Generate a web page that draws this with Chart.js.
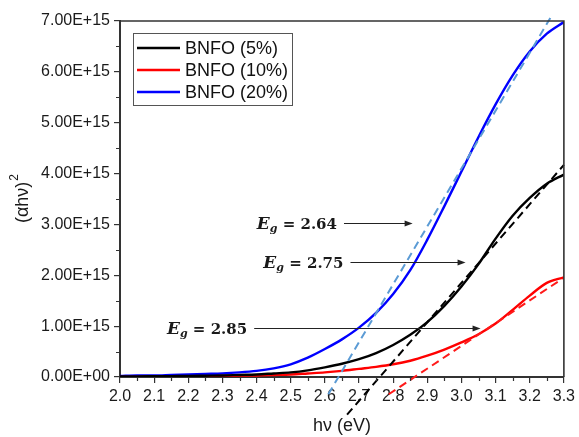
<!DOCTYPE html>
<html>
<head>
<meta charset="utf-8">
<script src="https://cdn.jsdelivr.net/npm/chart.js@4/dist/chart.umd.min.js"></script>
<style>
html,body{margin:0;padding:0;background:#fff;}
#wrap{width:579px;height:437px;}
</style>
</head>
<body>
<div id="wrap"><canvas id="c" width="579" height="437"></canvas></div>
<script>
// ---- data (y values in units of 1E+15) ----
const photonEnergy = [2.00,2.05,2.10,2.15,2.20,2.25,2.30,2.35,2.40,2.45,2.50,2.55,2.60,2.65,2.70,2.75,2.80,2.85,2.90,2.95,3.00,3.05,3.10,3.15,3.20,3.25,3.30];
const bnfo5  = [0.01,0.012,0.015,0.018,0.02,0.025,0.03,0.04,0.05,0.07,0.09,0.13,0.19,0.26,0.35,0.47,0.63,0.83,1.08,1.40,1.78,2.22,2.72,3.17,3.52,3.80,3.98];
const bnfo10 = [0.00,0.003,0.005,0.008,0.01,0.015,0.02,0.025,0.03,0.04,0.05,0.07,0.09,0.12,0.16,0.20,0.25,0.32,0.42,0.54,0.68,0.84,1.05,1.32,1.60,1.85,1.96];
const bnfo20 = [0.02,0.03,0.03,0.04,0.05,0.06,0.07,0.09,0.12,0.17,0.25,0.38,0.55,0.74,0.97,1.26,1.63,2.10,2.70,3.36,4.04,4.72,5.36,5.93,6.40,6.75,6.98];
// Tauc fit lines (end points)
const fit5X  = [2.665, 3.30];  const fit5Y  = [-0.74, 4.17];
const fit10X = [2.787, 3.295]; const fit10Y = [-0.34, 1.93];
const fit20X = [2.610, 3.262]; const fit20Y = [-0.34, 7.08];
const seriesLabels = ['BNFO (5%)','BNFO (10%)','BNFO (20%)'];
const xTicks = [2.0,2.1,2.2,2.3,2.4,2.5,2.6,2.7,2.8,2.9,3.0,3.1,3.2,3.3];
const yTicks = [0,1,2,3,4,5,6,7];
// band gap annotations
const gapLabels = ['2.64','2.75','2.85'];
const gapArrowY = [3.02, 2.27, 0.97];
const gapArrowX0 = [2.656, 2.675, 2.393];
const gapArrowX1 = [2.857, 3.012, 3.056];

const UNIT = 1e15;
const pts = (xs, ys) => xs.map((x,i)=>({x:x, y:ys[i]*UNIT}));
function fmtExp(v){
  if (Math.abs(v) < 1) return '0.00E+00';
  return v.toExponential(2).toUpperCase();
}

const solidStyle = c => ({borderColor:c, backgroundColor:c, borderWidth:2.4, pointRadius:0, cubicInterpolationMode:'monotone', fill:false, showLine:true, order:2});
const dashStyle = c => ({borderColor:c, backgroundColor:c, borderWidth:2, borderDash:[8,5], pointRadius:0, fill:false, showLine:true, clip:false, order:1});

const decor = {
  id:'decor',
  afterDatasetsDraw(chart){
    const ctx = chart.ctx, a = chart.chartArea, xs = chart.scales.x, ys = chart.scales.y;
    ctx.save();
    // frame top/right
    ctx.strokeStyle = '#333'; ctx.lineWidth = 1.6;
    ctx.beginPath();
    ctx.moveTo(a.left, a.top); ctx.lineTo(a.right, a.top); ctx.lineTo(a.right, a.bottom);
    ctx.stroke();
    // minor ticks
    ctx.lineWidth = 1.2;
    ctx.beginPath();
    for (let i=0;i<xTicks.length-1;i++){
      const px = Math.round(xs.getPixelForValue((xTicks[i]+xTicks[i+1])/2))+0.5;
      ctx.moveTo(px, a.bottom); ctx.lineTo(px, a.bottom+4);
    }
    for (let i=0;i<yTicks.length-1;i++){
      const py = Math.round(ys.getPixelForValue((yTicks[i]+yTicks[i+1])/2*UNIT))+0.5;
      ctx.moveTo(a.left, py); ctx.lineTo(a.left-4, py);
    }
    ctx.stroke();
    // y axis title with superscript
    ctx.save();
    ctx.translate(22, (a.top+a.bottom)/2);
    ctx.rotate(-Math.PI/2);
    ctx.fillStyle = '#1a1a1a';
    ctx.font = '18px "Liberation Sans", Arial, sans-serif';
    const main = '(αhν)';
    const wm = ctx.measureText(main).width;
    ctx.font = '12px "Liberation Sans", Arial, sans-serif';
    const ws = ctx.measureText('2').width;
    let sx = -(wm+ws)/2;
    ctx.textBaseline = 'middle'; ctx.textAlign = 'left';
    ctx.font = '18px "Liberation Sans", Arial, sans-serif';
    ctx.fillText(main, sx, 1);
    ctx.font = '12px "Liberation Sans", Arial, sans-serif';
    ctx.fillText('2', sx+wm+1, -7);
    ctx.restore();
    // legend
    const lx = 133, ly = 33, lw = 159, lh = 72;
    ctx.fillStyle = '#fff';
    ctx.fillRect(lx, ly, lw, lh);
    ctx.strokeStyle = '#555'; ctx.lineWidth = 1;
    ctx.strokeRect(lx+0.5, ly+0.5, lw, lh);
    ctx.font = '18px "Liberation Sans", Arial, sans-serif';
    ctx.textBaseline = 'middle'; ctx.textAlign = 'left';
    [0,1,2].forEach((di, r) => {
      const ds = chart.data.datasets[di];
      const yy = 48 + r*22;
      ctx.strokeStyle = ds.borderColor; ctx.lineWidth = 2.4;
      ctx.beginPath(); ctx.moveTo(137, yy); ctx.lineTo(180, yy); ctx.stroke();
      ctx.fillStyle = '#111';
      ctx.fillText(ds.label, 185, yy+1);
    });
    // annotations
    for (let i=0;i<gapLabels.length;i++){
      const y = Math.round(ys.getPixelForValue(gapArrowY[i]*UNIT))+0.5;
      const x0 = xs.getPixelForValue(gapArrowX0[i]);
      const x1 = xs.getPixelForValue(gapArrowX1[i]);
      ctx.strokeStyle = '#222'; ctx.fillStyle = '#222'; ctx.lineWidth = 1;
      ctx.beginPath(); ctx.moveTo(x0, y); ctx.lineTo(x1-6, y); ctx.stroke();
      ctx.beginPath(); ctx.moveTo(x1, y); ctx.lineTo(x1-8, y-3); ctx.lineTo(x1-8, y+3); ctx.closePath(); ctx.fill();
      const fE = 'italic bold 17px "DejaVu Serif", "Liberation Serif", serif';
      const fg = 'italic bold 11px "DejaVu Serif", "Liberation Serif", serif';
      const fr = 'bold 15px "DejaVu Serif", "Liberation Serif", serif';
      const rest = ' = ' + gapLabels[i];
      ctx.font = fE; const wE = ctx.measureText('E').width;
      ctx.font = fg; const wg = ctx.measureText('g').width;
      ctx.font = fr; const wr = ctx.measureText(rest).width;
      let tx = x0 - 7 - (wE + wg + wr);
      ctx.textAlign = 'left'; ctx.textBaseline = 'alphabetic';
      ctx.fillStyle = '#1a1a1a';
      ctx.font = fE; ctx.fillText('E', tx, y+5); tx += wE;
      ctx.font = fg; ctx.fillText('g', tx, y+8); tx += wg;
      ctx.font = fr; ctx.fillText(rest, tx, y+5);
    }
    ctx.restore();
  }
};

const datasets = [
  Object.assign({label:seriesLabels[0], data:pts(photonEnergy,bnfo5)}, solidStyle('#000000')),
  Object.assign({label:seriesLabels[1], data:pts(photonEnergy,bnfo10)}, solidStyle('#ff0000')),
  Object.assign({label:seriesLabels[2], data:pts(photonEnergy,bnfo20)}, solidStyle('#0000ff')),
  Object.assign({label:'fit5', data:pts(fit5X,fit5Y)}, dashStyle('#000000')),
  Object.assign({label:'fit10', data:pts(fit10X,fit10Y)}, dashStyle('#ff1a1a')),
  Object.assign({label:'fit20', data:pts(fit20X,fit20Y)}, dashStyle('#5b9bd5')),
];

Chart.defaults.font.family = '"Liberation Sans", Arial, sans-serif';
Chart.defaults.color = '#1a1a1a';

new Chart(document.getElementById('c'), {
  type:'scatter',
  data:{datasets},
  plugins:[decor],
  options:{
    responsive:false, animation:false,
    layout:{padding:{top:21, right:14, left:0, bottom:0}},
    plugins:{legend:{display:false}, tooltip:{enabled:false}},
    scales:{
      x:{
        type:'linear', min:2.0, max:3.3,
        afterBuildTicks: s => { s.ticks = xTicks.map(v=>({value:v})); },
        afterFit: s => { s.height = 60; },
        ticks:{font:{size:16}, color:'#1a1a1a', padding:4, maxRotation:0, autoSkip:false, callback:v=>v.toFixed(1)},
        grid:{drawOnChartArea:false, drawTicks:true, tickLength:6, color:'#333', lineWidth:1.2},
        border:{display:true, color:'#333', width:2},
        title:{display:true, text:'hν (eV)', font:{size:18}, color:'#1a1a1a', padding:{top:3,bottom:0}}
      },
      y:{
        type:'linear', min:0, max:7*UNIT,
        afterBuildTicks: s => { s.ticks = yTicks.map(v=>({value:v*UNIT})); },
        afterFit: s => { s.width = 120; },
        ticks:{font:{size:16}, color:'#1a1a1a', padding:4, autoSkip:false, callback:v=>fmtExp(v)},
        grid:{drawOnChartArea:false, drawTicks:true, tickLength:6, color:'#333', lineWidth:1.2},
        border:{display:true, color:'#333', width:2},
        title:{display:false}
      }
    }
  }
});
</script>
</body>
</html>
